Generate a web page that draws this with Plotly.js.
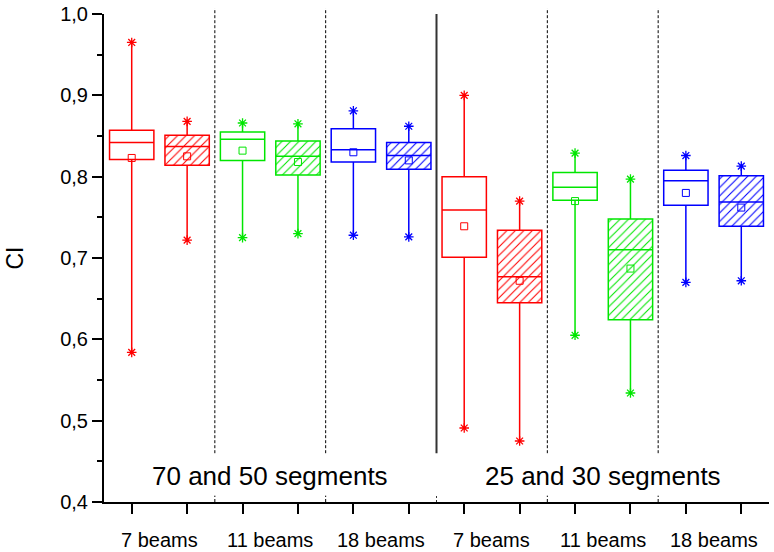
<!DOCTYPE html>
<html>
<head>
<meta charset="utf-8">
<script src="https://cdn.plot.ly/plotly-3.0.1.min.js"></script>
<style>html,body{margin:0;padding:0;background:#fff;}#chart{width:774px;height:552px;}</style>
</head>
<body>
<div id="chart"></div>
<script>
// ---- data ----
const groupLabels = ['70 and 50 segments', '25 and 30 segments'];
const beamLabels = ['7 beams', '11 beams', '18 beams', '7 beams', '11 beams', '18 beams'];
const boxNames = ['7 beams (70)', '7 beams (50)', '11 beams (70)', '11 beams (50)', '18 beams (70)', '18 beams (50)',
                  '7 beams (25)', '7 beams (30)', '11 beams (25)', '11 beams (30)', '18 beams (25)', '18 beams (30)'];
const upperVals  = [0.965, 0.868, 0.866, 0.865, 0.881, 0.862, 0.900, 0.770, 0.829, 0.797, 0.826, 0.813];
const q3Vals     = [0.857, 0.851, 0.855, 0.844, 0.859, 0.842, 0.800, 0.734, 0.805, 0.748, 0.808, 0.801];
const medianVals = [0.842, 0.837, 0.846, 0.825, 0.833, 0.826, 0.759, 0.677, 0.787, 0.710, 0.795, 0.769];
const q1Vals     = [0.821, 0.814, 0.820, 0.802, 0.818, 0.809, 0.701, 0.645, 0.771, 0.624, 0.765, 0.739];
const lowerVals  = [0.584, 0.722, 0.725, 0.730, 0.728, 0.726, 0.491, 0.475, 0.605, 0.534, 0.670, 0.672];
const meanVals   = [0.823, 0.825, 0.832, 0.818, 0.830, 0.820, 0.739, 0.672, 0.770, 0.687, 0.780, 0.762];

// ---- styling ----
const palette = ['#ff0000', '#00e600', '#0000ff'];
const FONT = 'Liberation Sans, Arial, sans-serif';
const xs = boxNames.map((_, i) => i + 1);
const colorOf = i => palette[Math.floor((i % 6) / 2)];
const hatched = i => i % 2 === 1;

const traces = [];
// hatched fills drawn as patterned bars between q1 and q3
xs.forEach((x, i) => {
  if (!hatched(i)) return;
  traces.push({
    type: 'bar', x: [x], base: [q1Vals[i]], y: [q3Vals[i] - q1Vals[i]], width: 0.8,
    marker: {color: 'rgba(255,255,255,0)', line: {width: 0},
             pattern: {shape: '/', fgcolor: colorOf(i), bgcolor: 'rgba(255,255,255,0)', size: 6, solidity: 0.18}},
    hoverinfo: 'skip', showlegend: false
  });
});
// boxes
xs.forEach((x, i) => {
  traces.push({
    type: 'box', name: boxNames[i], x: [x],
    q1: [q1Vals[i]], median: [medianVals[i]], q3: [q3Vals[i]],
    lowerfence: [lowerVals[i]], upperfence: [upperVals[i]],
    width: 0.8, whiskerwidth: 0, fillcolor: 'rgba(255,255,255,0)',
    line: {color: colorOf(i), width: 1.5}, showlegend: false
  });
});
// whisker end markers and means
xs.forEach((x, i) => {
  traces.push({
    type: 'scatter', mode: 'markers', x: [x, x], y: [lowerVals[i], upperVals[i]],
    marker: {symbol: 'asterisk-open', size: 8, color: colorOf(i), line: {color: colorOf(i), width: 1.3}},
    showlegend: false, hoverinfo: 'skip'
  });
  traces.push({
    type: 'scatter', mode: 'markers', x: [x], y: [meanVals[i]],
    marker: {symbol: 'square-open', size: 7, color: colorOf(i), line: {color: colorOf(i), width: 1}},
    showlegend: false, hoverinfo: 'skip'
  });
});

const yMin = 0.4, yMax = 1.0;
const frac = v => (v - yMin) / (yMax - yMin);
const lineBottom = 0.46;
const shapes = [];
[2.5, 4.5, 8.5, 10.5].forEach(x => {
  shapes.push({type: 'line', xref: 'x', yref: 'paper', x0: x, x1: x, y0: frac(lineBottom), y1: 1.012,
               line: {color: '#000', width: 1, dash: '3px,2px'}});
  shapes.push({type: 'line', xref: 'x', yref: 'paper', x0: x, x1: x, y0: 0, y1: 0.013,
               line: {color: '#000', width: 1, dash: '3px,2px'}});
});
shapes.push({type: 'line', xref: 'x', yref: 'paper', x0: 6.5, x1: 6.5, y0: frac(lineBottom), y1: 1.0,
             line: {color: '#333', width: 2}});
shapes.push({type: 'line', xref: 'x', yref: 'paper', x0: 6.5, x1: 6.5, y0: 0, y1: 0.015,
             line: {color: '#333', width: 1, dash: '2px,2px'}});

const annotations = [];
groupLabels.forEach((t, g) => {
  annotations.push({text: t, x: 3.5 + 6 * g, xref: 'x', y: 0.432, yref: 'y', showarrow: false,
                    xanchor: 'center', yanchor: 'middle', font: {family: FONT, size: 26, color: '#000'}});
});
beamLabels.forEach((t, k) => {
  annotations.push({text: t, x: 1.5 + 2 * k, xref: 'x', y: -0.078, yref: 'paper', showarrow: false,
                    xanchor: 'center', yanchor: 'middle', font: {family: FONT, size: 20, color: '#000'}});
});

const layout = {
  width: 774, height: 552,
  margin: {l: 104, r: 5, t: 14, b: 50},
  paper_bgcolor: '#fff', plot_bgcolor: '#fff',
  separators: ', ',
  showlegend: false,
  barmode: 'overlay', boxmode: 'overlay',
  font: {family: FONT, color: '#000'},
  xaxis: {range: [0.5, 12.5], tickvals: xs, showticklabels: false, ticks: 'outside', ticklen: 10, tickwidth: 2,
          tickcolor: '#000', showline: true, linewidth: 2, linecolor: '#000', showgrid: false, zeroline: false},
  yaxis: {range: [yMin, yMax], dtick: 0.1, tick0: 0.4, tickformat: '.1f', ticks: 'outside', ticklen: 10, tickwidth: 2,
          tickcolor: '#000', showline: true, linewidth: 2, linecolor: '#000', showgrid: false, zeroline: false,
          tickfont: {family: FONT, size: 20, color: '#000'},
          minor: {dtick: 0.05, ticks: 'outside', ticklen: 5, tickwidth: 2, tickcolor: '#000', showgrid: false},
          title: {text: 'CI', font: {family: FONT, size: 23, color: '#000'}, standoff: 30}},
  shapes: shapes,
  annotations: annotations
};

Plotly.newPlot('chart', traces, layout, {staticPlot: true, displayModeBar: false});
</script>
</body>
</html>
